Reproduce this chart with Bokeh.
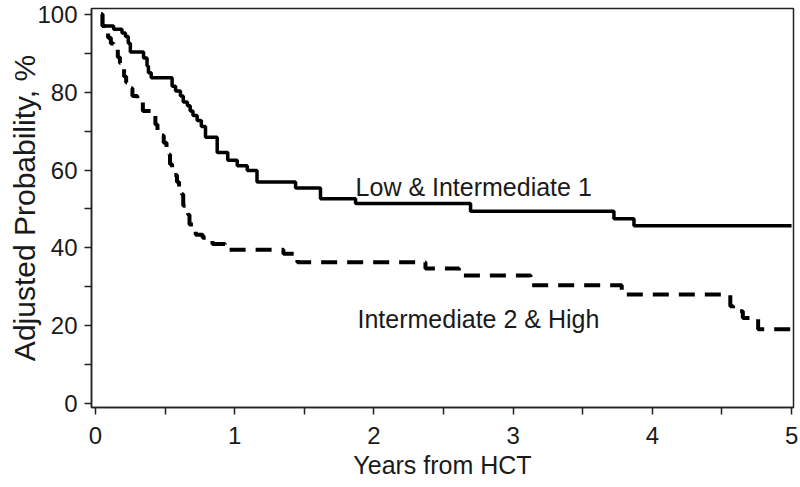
from bokeh.plotting import figure
from bokeh.models import Range1d, FixedTicker, Label
from bokeh.embed import file_html
from bokeh.resources import INLINE

# Step-change times (years) and adjusted probability (%) after each step
low_t = [0.04, 0.05, 0.13, 0.19, 0.215, 0.235, 0.25, 0.345, 0.37, 0.38, 0.40,
         0.55, 0.575, 0.61, 0.63, 0.66, 0.68, 0.70, 0.73, 0.76, 0.79, 0.874,
         0.95, 1.018, 1.09, 1.16, 1.437, 1.616, 1.868, 2.694, 3.724, 3.868, 5.0]
low_p = [100, 97, 96.2, 95.2, 94.3, 92.6, 90.3, 88.8, 86.7, 85, 83.7,
         81.5, 80.3, 79, 77.5, 76.5, 75.2, 74, 72.7, 71.2, 68.4, 64.5,
         62.5, 61.1, 59.9, 56.9, 55.4, 52.6, 51.4, 49.4, 47.5, 45.7, 45.7]

high_t = [0.04, 0.05, 0.09, 0.11, 0.13, 0.16, 0.175, 0.19, 0.205, 0.22, 0.24,
          0.265, 0.30, 0.34, 0.43, 0.445, 0.46, 0.49, 0.51, 0.53, 0.535, 0.55,
          0.56, 0.585, 0.60, 0.62, 0.63, 0.65, 0.665, 0.675, 0.70, 0.72, 0.77,
          0.84, 0.93, 1.35, 1.45, 2.37, 2.61, 3.125, 3.78, 4.56, 4.58, 4.65,
          4.76, 5.0]
high_p = [100, 97, 94, 92.5, 91, 89, 87.5, 86, 84, 82.5, 81,
          79, 77.5, 75.2, 71.7, 70, 68.9, 67, 65.5, 64, 61.5, 60,
          58.7, 56.9, 55.2, 53.8, 50.8, 49.5, 48.5, 46, 44.7, 43.4, 42.6,
          41, 39.5, 38.5, 36.3, 34.7, 32.9, 30.4, 28, 25, 23.7, 22,
          19.1, 19.1]

x_ticks = [0, 1, 2, 3, 4, 5]
x_minor = [0.5, 1.5, 2.5, 3.5, 4.5]
y_ticks = [0, 20, 40, 60, 80, 100]
y_minor = [10, 30, 50, 70, 90]

label_low = "Low & Intermediate 1"
label_high = "Intermediate 2 & High"
x_title = "Years from HCT"
y_title = "Adjusted Probability, %"

FONT = "Liberation Sans"
INK = "#1a1a1a"

p = figure(width=800, height=487, output_backend="svg", toolbar_location=None,
           x_range=Range1d(-0.029, 5.014), y_range=Range1d(-1.0, 101.5),
           min_border_left=91, min_border_right=7, min_border_top=8,
           min_border_bottom=80)

p.step(low_t, low_p, mode="after", line_color="black", line_width=3.5)
p.step(high_t, high_p, mode="after", line_color="black", line_width=4,
       line_dash="16 10")

p.add_layout(Label(x=1.868, y=55.6, text=label_low, text_font=FONT,
                   text_font_size="25px", text_color=INK,
                   text_baseline="alphabetic"))
p.add_layout(Label(x=1.882, y=21.7, text=label_high, text_font=FONT,
                   text_font_size="25px", text_color=INK,
                   text_baseline="alphabetic"))

p.grid.visible = False
p.outline_line_color = "#222222"
p.outline_line_width = 1.5
p.background_fill_color = "white"
p.border_fill_color = "white"

p.xaxis.ticker = FixedTicker(ticks=x_ticks, minor_ticks=x_minor)
p.yaxis.ticker = FixedTicker(ticks=y_ticks, minor_ticks=y_minor)

for ax in (p.xaxis[0], p.yaxis[0]):
    ax.axis_line_color = "#222222"
    ax.axis_line_width = 1.5
    ax.major_tick_line_color = "#222222"
    ax.minor_tick_line_color = "#222222"
    ax.major_tick_line_width = 1.5
    ax.minor_tick_line_width = 1.5
    ax.major_tick_in = 0
    ax.minor_tick_in = 0
    ax.major_tick_out = 7
    ax.minor_tick_out = 7
    ax.major_label_text_font = FONT
    ax.major_label_text_font_size = "24px"
    ax.major_label_text_color = INK
    ax.axis_label_text_font = FONT
    ax.axis_label_text_font_style = "normal"
    ax.axis_label_text_color = INK

p.xaxis.axis_label = x_title
p.xaxis.axis_label_text_font_size = "25px"
p.xaxis.major_label_standoff = 12
p.xaxis.axis_label_standoff = 4

p.yaxis.axis_label = y_title
p.yaxis.axis_label_text_font_size = "30px"
p.yaxis.major_label_standoff = 7
p.yaxis.axis_label_standoff = -7

open("out.html", "w").write(file_html(p, INLINE))
